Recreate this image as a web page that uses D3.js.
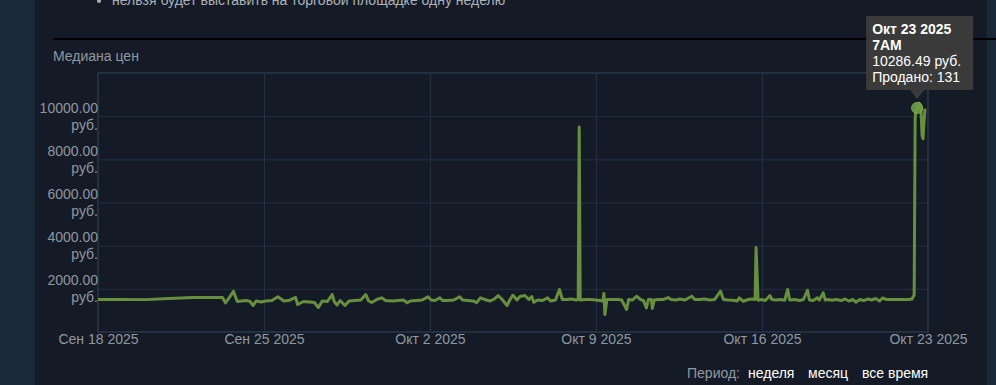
<!DOCTYPE html>
<meta charset="utf-8">
<head>
  <title>Медиана цен</title>
</head>
<body>
<style>
body { margin: 0; background: #1b2838; }
svg { display: block; }
text { font-family: "Liberation Sans", Arial, sans-serif; }
.axis text { font-size: 14px; fill: #8f98a0; }
.axis .domain { display: none; }
.grid line { stroke: #223041; stroke-width: 1; }
.grid .domain { display: none; }
.price-line { fill: none; stroke: #688f3e; stroke-width: 3; stroke-linejoin: round; }
.tip text { font-size: 14px; fill: #fff; }
</style>
<svg class="chart" width="996" height="385"></svg>
<script src="https://d3js.org/d3.v7.min.js"></script>
<script>

// daily medians (older part of the history)
var dailyDates = ["09-18", "09-19", "09-20", "09-21", "09-22", "09-23"];
var dailyPrices = [1505, 1505, 1500, 1550, 1597, 1600];

// hourly medians, "MM-DD HH"
var hourlyTimes = [
  "09-24 00", "09-24 03", "09-24 07", "09-24 11", "09-24 15", "09-24 19",
  "09-25 00", "09-25 04", "09-25 07", "09-25 10", "09-25 15", "09-25 20",
  "09-26 02", "09-26 08", "09-26 14", "09-26 20",
  "09-27 02", "09-27 04", "09-27 10", "09-27 16", "09-27 21",
  "09-28 01", "09-28 05", "09-28 10", "09-28 15", "09-28 17", "09-28 20", "09-28 23",
  "09-29 04", "09-29 08", "09-29 14", "09-29 20",
  "09-30 01", "09-30 04", "09-30 07", "09-30 12", "09-30 17", "09-30 21",
  "10-01 04", "10-01 10", "10-01 15", "10-01 19", "10-01 22",
  "10-02 04", "10-02 10", "10-02 16", "10-02 19", "10-02 23",
  "10-03 04", "10-03 07", "10-03 12", "10-03 18",
  "10-04 00", "10-04 03", "10-04 08", "10-04 14", "10-04 17", "10-04 21",
  "10-05 03", "10-05 07", "10-05 11", "10-05 15", "10-05 19",
  "10-06 00", "10-06 03", "10-06 06", "10-06 10", "10-06 13", "10-06 18", "10-06 22",
  "10-07 01", "10-07 03", "10-07 07", "10-07 12", "10-07 17", "10-07 20",
  "10-08 01", "10-08 05", "10-08 08", "10-08 13", "10-08 17", "10-08 22",
  "10-09 00", "10-09 01", "10-09 02", "10-09 07", "10-09 12", "10-09 18", "10-09 22",
  "10-10 01", "10-10 02", "10-10 03", "10-10 05", "10-10 11", "10-10 16", "10-10 20",
  "10-11 01", "10-11 03", "10-11 07", "10-11 11", "10-11 15", "10-11 18", "10-11 21", "10-11 23",
  "10-12 02", "10-12 03", "10-12 05", "10-12 09", "10-12 14", "10-12 19", "10-12 22",
  "10-13 03", "10-13 07", "10-13 12", "10-13 19", "10-13 22",
  "10-14 03", "10-14 08", "10-14 13", "10-14 18",
  "10-15 00", "10-15 03", "10-15 08", "10-15 13", "10-15 17", "10-15 19", "10-15 23",
  "10-16 04", "10-16 08", "10-16 11", "10-16 12", "10-16 14", "10-16 18", "10-16 21",
  "10-17 00", "10-17 02", "10-17 04", "10-17 08", "10-17 13", "10-17 17", "10-17 20", "10-17 22",
  "10-18 03", "10-18 08", "10-18 12", "10-18 16", "10-18 18", "10-18 22",
  "10-19 02", "10-19 04", "10-19 08", "10-19 10", "10-19 13", "10-19 17", "10-19 21",
  "10-20 02", "10-20 06", "10-20 10", "10-20 14", "10-20 17", "10-20 21",
  "10-21 01", "10-21 05", "10-21 09", "10-21 13", "10-21 17", "10-21 20",
  "10-22 00", "10-22 07", "10-22 14", "10-22 22",
  "10-23 02", "10-23 03", "10-23 04", "10-23 05", "10-23 06", "10-23 07", "10-23 08",
  "10-23 09", "10-23 10", "10-23 11", "10-23 12", "10-23 13", "10-23 14", "10-23 15"
];
var hourlyPrices = [
  1600, 1352, 1600, 1889, 1412, 1440,
  1458, 1412, 1227, 1435, 1389, 1435,
  1458, 1630, 1435, 1472,
  1600, 1273, 1412, 1389, 1366,
  1134, 1435, 1412, 1736, 1412, 1250, 1458,
  1227, 1435, 1458, 1482,
  1736, 1435, 1366, 1505, 1583, 1458,
  1435, 1458, 1482, 1352, 1435,
  1458, 1482, 1630, 1482, 1458,
  1583, 1458, 1458, 1482,
  1630, 1482, 1458, 1435, 1352, 1583,
  1482, 1435, 1528, 1690, 1505,
  1227, 1505, 1704, 1482, 1644, 1690, 1505,
  1644, 1380, 1482, 1458, 1583, 1435,
  1482, 1968, 1505, 1505, 1528, 1482,
  1505, 9500, 1482, 1505, 1505, 1482, 1458,
  1435, 1783, 810, 1505, 1505, 1505, 1482,
  1042, 1505, 1482, 1658, 1505, 1458, 1120, 1505,
  1505, 1088, 1482, 1505, 1505, 1597, 1505,
  1482, 1528, 1482, 1658, 1505,
  1505, 1528, 1482, 1505,
  1889, 1505, 1482, 1472, 1435, 1583, 1425,
  1505, 1528, 1505, 3912, 1472, 1505, 1458,
  1583, 1690, 1505, 1482, 1505, 1472, 1968, 1482,
  1505, 1458, 1505, 1935, 1482, 1458,
  1583, 1482, 1815, 1482, 1505, 1472, 1505,
  1458, 1528, 1435, 1505, 1380, 1505,
  1458, 1528, 1482, 1551, 1435, 1574,
  1505, 1505, 1505, 1505,
  1528, 1644, 1700, 9900, 10450, 10286.49, 10500,
  10600, 10550, 10200, 9100, 8950, 9800, 10350
];

var tickDays = ["09-18", "09-25", "10-02", "10-09", "10-16", "10-23"];
var priceTicks = [2000, 4000, 6000, 8000, 10000];

var tipTime = "10-23 07";
var tipPrice = 10286.49;
var tipSold = 131;

var ru = d3.timeFormatLocale({
  dateTime: "%A, %e %B %Y г. %X", date: "%d.%m.%Y", time: "%H:%M:%S", periods: ["AM", "PM"],
  days: ["воскресенье", "понедельник", "вторник", "среда", "четверг", "пятница", "суббота"],
  shortDays: ["вс", "пн", "вт", "ср", "чт", "пт", "сб"],
  months: ["января", "февраля", "марта", "апреля", "мая", "июня", "июля", "августа", "сентября", "октября", "ноября", "декабря"],
  shortMonths: ["Янв", "Фев", "Мар", "Апр", "Май", "Июн", "Июл", "Авг", "Сен", "Окт", "Ноя", "Дек"]
});

var parseHour = d3.timeParse("%Y-%m-%d %H");
var parseDay = function(s) { return parseHour("2025-" + s + " 18"); };   // axis days sit at 18:00
var dayLabel = ru.format("%b %-d %Y");

var data = dailyDates.map(function(d, i) { return { t: parseDay(d), v: dailyPrices[i] }; })
  .concat(hourlyTimes.map(function(d, i) { return { t: parseHour("2025-" + d), v: hourlyPrices[i] }; }));

var svg = d3.select(".chart"),
    width = +svg.attr("width"),
    height = +svg.attr("height");

// page backdrop
svg.append("rect").attr("width", width).attr("height", height).attr("fill", "#1b2838");
svg.append("rect").attr("x", 35).attr("width", 952).attr("height", height).attr("fill", "#141b26");

// bit of the text above (cut off at the top)
svg.append("circle").attr("cx", 99).attr("cy", 1).attr("r", 2).attr("fill", "#acb2b8");
svg.append("text").attr("x", 112).attr("y", 5).attr("font-size", 14).attr("fill", "#acb2b8")
  .text("нельзя будет выставить на торговой площадке одну неделю");

svg.append("line").attr("x1", 53).attr("x2", width).attr("y1", 39).attr("y2", 39)
  .attr("stroke", "#000").attr("stroke-width", 2);

svg.append("text").attr("x", 53).attr("y", 61).attr("font-size", 14).attr("fill", "#8f98a0")
  .text("Медиана цен");

var plotLeft = 98, plotRight = 928, plotTop = 73, plotBottom = 332;

var x = d3.scaleTime()
    .domain([parseDay(tickDays[0]), parseDay(tickDays[tickDays.length - 1])])
    .range([plotLeft, plotRight]);

var y = d3.scaleLinear()
    .domain([0, 12000])
    .range([plotBottom, plotTop]);

// grid
svg.append("g").attr("class", "grid")
    .attr("transform", "translate(0," + plotBottom + ")")
    .call(d3.axisBottom(x).tickValues(tickDays.map(parseDay)).tickSize(-(plotBottom - plotTop)).tickFormat(""));
svg.append("g").attr("class", "grid")
    .attr("transform", "translate(" + plotLeft + ",0)")
    .call(d3.axisLeft(y).tickValues(priceTicks).tickSize(-(plotRight - plotLeft)).tickFormat(""));

svg.append("rect").attr("x", plotLeft).attr("y", plotTop)
  .attr("width", plotRight - plotLeft).attr("height", plotBottom - plotTop)
  .attr("fill", "none").attr("stroke", "#223041").attr("stroke-width", 2);

// axes
var xAxis = svg.append("g").attr("class", "axis")
    .attr("transform", "translate(0," + plotBottom + ")")
    .call(d3.axisBottom(x).tickValues(tickDays.map(parseDay)).tickSize(0).tickFormat(dayLabel));
xAxis.selectAll("text").attr("y", 12).attr("dy", 0);

var yAxis = svg.append("g").attr("class", "axis")
    .attr("transform", "translate(" + plotLeft + ",0)")
    .call(d3.axisLeft(y).tickValues(priceTicks).tickSize(0).tickPadding(0).tickFormat(""));
yAxis.selectAll(".tick text").each(function(d) {
  var t = d3.select(this).attr("dy", null).attr("x", 0).attr("text-anchor", "end");
  t.append("tspan").attr("x", 0).attr("y", -4).text(d.toFixed(2));
  t.append("tspan").attr("x", 0).attr("y", 13).text("руб.");
});

// price line
var line = d3.line()
    .x(function(d) { return x(d.t); })
    .y(function(d) { return y(d.v); });

svg.append("path").datum(data).attr("class", "price-line").attr("d", line);

// hover marker + tooltip
var tipDate = parseHour("2025-" + tipTime);
var tx = x(tipDate), ty = y(tipPrice);
svg.append("circle").attr("cx", tx).attr("cy", ty - 2).attr("r", 5.5)
  .attr("fill", "#6f9c45").attr("fill-opacity", 0.85).attr("stroke", "#7fae50").attr("stroke-width", 1);

var tip = svg.append("g").attr("class", "tip");
var bx = tx - 51, by = ty - 94, bw = 107, bh = 74;
tip.append("path")
  .attr("d", "M" + bx + "," + by + "h" + bw + "v" + bh + "H" + (tx + 7) + "L" + tx + "," + (by + bh + 9) +
             "L" + (tx - 7) + "," + (by + bh) + "H" + bx + "Z")
  .attr("fill", "#3a3a3a");
tip.append("text").attr("x", bx + 6).attr("y", by + 18).attr("font-weight", "bold")
  .text(dayLabel(tipDate));
tip.append("text").attr("x", bx + 6).attr("y", by + 34).attr("font-weight", "bold")
  .text(d3.timeFormat("%-I%p")(tipDate));
tip.append("text").attr("x", bx + 6).attr("y", by + 50).text(tipPrice.toFixed(2) + " руб.");
tip.append("text").attr("x", bx + 6).attr("y", by + 66).text("Продано: " + tipSold);

// period switch
var period = svg.append("text").attr("x", 687).attr("y", 378).attr("font-size", 14);
period.append("tspan").attr("fill", "#8f98a0").text("Период:");
period.append("tspan").attr("x", 748).attr("fill", "#fff").text("неделя");
period.append("tspan").attr("x", 808).attr("fill", "#fff").text("месяц");
period.append("tspan").attr("x", 862).attr("fill", "#fff").text("все время");

</script>
</body>
</html>
